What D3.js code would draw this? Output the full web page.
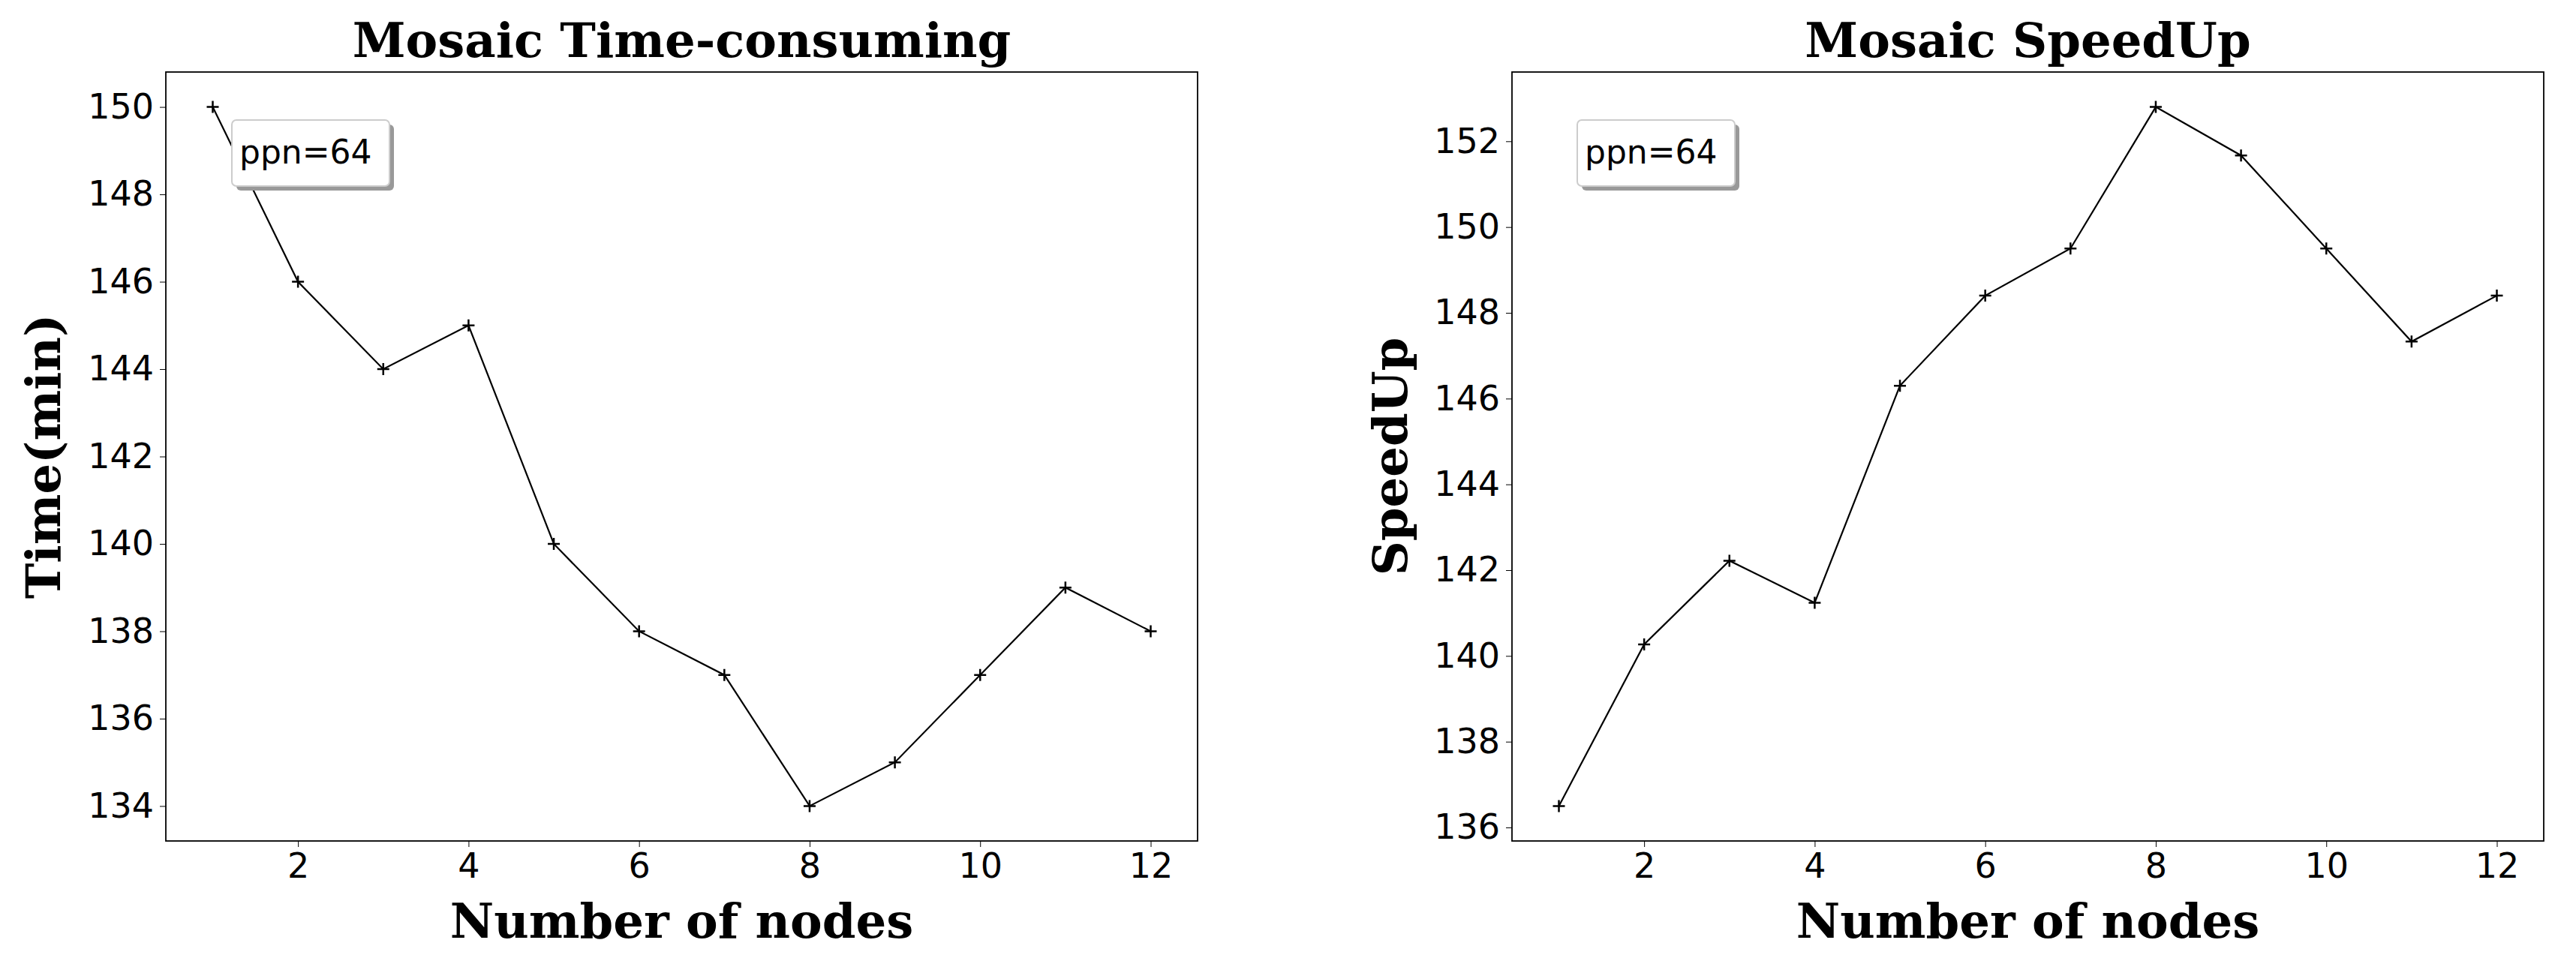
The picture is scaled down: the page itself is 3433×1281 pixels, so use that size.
<!DOCTYPE html>
<html>
<head>
<meta charset="utf-8">
<script src="https://cdn.jsdelivr.net/npm/d3@7"></script>
<style>
  body { margin: 0; background: #fff; }
  svg { display: block; }
</style>
</head>
<body>
<svg id="chart" width="3433" height="1281"></svg>
<script>
// data
const nodes = [1, 2, 3, 4, 5, 6, 7, 8, 9, 10, 11, 12];
const timeValues = [150, 146, 144, 145, 140, 138, 137, 134, 135, 137, 139, 138];
const speedValues = [136.5, 140.27, 142.22, 141.24, 146.3, 148.4, 149.5, 152.8, 151.67, 149.5, 147.33, 148.4];
const xTicks = [2, 4, 6, 8, 10, 12];
const timeTicks = [134, 136, 138, 140, 142, 144, 146, 148, 150];
const speedTicks = [136, 138, 140, 142, 144, 146, 148, 150, 152];

const svg = d3.select('#chart');

function panel(opt) {
  const x = d3.scaleLinear().domain([0.45, 12.55]).range([opt.left, opt.right]);
  const ext = d3.extent(opt.values);
  const pad = (ext[1] - ext[0]) * 0.05;
  const y = d3.scaleLinear().domain([ext[0] - pad, ext[1] + pad]).range([opt.bottom, opt.top]);

  const g = svg.append('g');

  // axes
  g.append('g')
    .attr('transform', `translate(0,${opt.bottom})`)
    .call(d3.axisBottom(x).tickValues(xTicks).tickSize(8).tickPadding(8))
    .call(a => a.select('.domain').remove())
    .selectAll('text').attr('font-family', 'DejaVu Sans').attr('font-size', 46).attr('fill', '#000');

  g.append('g')
    .attr('transform', `translate(${opt.left},0)`)
    .call(d3.axisLeft(y).tickValues(opt.ticks).tickSize(8).tickPadding(8))
    .call(a => a.select('.domain').remove())
    .selectAll('text').attr('font-family', 'DejaVu Sans').attr('font-size', 46).attr('fill', '#000');

  // frame
  g.append('rect')
    .attr('x', opt.left).attr('y', opt.top)
    .attr('width', opt.right - opt.left).attr('height', opt.bottom - opt.top)
    .attr('fill', 'none').attr('stroke', '#000').attr('stroke-width', 1.8);

  // line
  const line = d3.line().x((d, i) => x(nodes[i])).y(d => y(d));
  g.append('path').datum(opt.values)
    .attr('d', line).attr('fill', 'none').attr('stroke', '#000').attr('stroke-width', 2.2);

  // plus markers
  const m = 8;
  g.selectAll('.mk').data(opt.values).enter().append('path')
    .attr('d', (d, i) => {
      const cx = x(nodes[i]), cy = y(d);
      return `M${cx - m},${cy}H${cx + m}M${cx},${cy - m}V${cy + m}`;
    })
    .attr('stroke', '#000').attr('stroke-width', 2.5);

  // title and labels
  g.append('text')
    .attr('x', (opt.left + opt.right) / 2).attr('y', opt.top - 20)
    .attr('text-anchor', 'middle')
    .attr('font-family', 'DejaVu Serif').attr('font-weight', 'bold').attr('font-size', 64)
    .text(opt.title);

  g.append('text')
    .attr('x', (opt.left + opt.right) / 2).attr('y', 1250)
    .attr('text-anchor', 'middle')
    .attr('font-family', 'DejaVu Serif').attr('font-weight', 'bold').attr('font-size', 64)
    .text('Number of nodes');

  g.append('text')
    .attr('transform', `translate(${opt.labelX},${(opt.top + opt.bottom) / 2}) rotate(-90)`)
    .attr('text-anchor', 'middle')
    .attr('font-family', 'DejaVu Serif').attr('font-weight', 'bold').attr('font-size', 64)
    .text(opt.ylabel);

  // legend box with shadow
  const lx = opt.legendX, ly = 160, lw = 210, lh = 88;
  g.append('rect').attr('x', lx + 6).attr('y', ly + 6).attr('width', lw).attr('height', lh)
    .attr('rx', 6).attr('fill', '#999');
  g.append('rect').attr('x', lx).attr('y', ly).attr('width', lw).attr('height', lh)
    .attr('rx', 6).attr('fill', '#fff').attr('stroke', '#ccc').attr('stroke-width', 2);
  g.append('text')
    .attr('x', lx + 10).attr('y', ly + 58)
    .attr('font-family', 'DejaVu Sans').attr('font-size', 44)
    .text('ppn=64');
}

panel({ left: 221, right: 1596, top: 96, bottom: 1121, values: timeValues, ticks: timeTicks,
        title: 'Mosaic Time-consuming', ylabel: 'Time(min)', labelX: 80, legendX: 309 });
panel({ left: 2015, right: 3390, top: 96, bottom: 1121, values: speedValues, ticks: speedTicks,
        title: 'Mosaic SpeedUp', ylabel: 'SpeedUp', labelX: 1875, legendX: 2102 });
</script>
</body>
</html>
